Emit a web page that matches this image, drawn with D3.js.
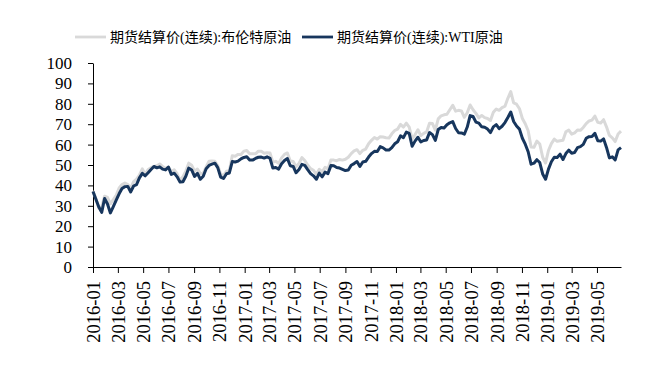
<!DOCTYPE html>
<html>
<head>
<meta charset="utf-8">
<script src="https://cdn.jsdelivr.net/npm/d3@7"></script>
<style>
  body { margin: 0; background: #fff; }
  text { font-family: "Liberation Serif", "Noto Sans CJK SC", serif; fill: #000; }
</style>
</head>
<body>
<svg id="chart"></svg>
<script>
// weekly samples (Fridays), 2016-01-01 .. 2019-06-28
const startDate = new Date(2016, 0, 1);
const endDate = new Date(2019, 5, 28);

const seriesNames = ["期货结算价(连续):布伦特原油", "期货结算价(连续):WTI原油"];
const yTicks = [0, 10, 20, 30, 40, 50, 60, 70, 80, 90, 100];

const brent = [
  // 2016
  37.3, 33.6, 28.9, 29.5, 34.7, 34.1, 31.0, 33.0, 35.1, 38.7, 40.4, 41.2, 40.4,
  38.7, 41.9, 43.1, 45.1, 48.1, 45.4, 47.8, 48.7, 49.3, 49.6, 50.5, 49.2, 48.4,
  49.0, 46.8, 47.6, 45.7, 42.5, 44.3, 47.0, 50.9, 49.9, 47.0, 48.0, 45.8, 45.9,
  49.1, 51.9, 52.0, 51.8, 49.7, 45.6, 44.8, 46.9, 47.2, 54.5, 54.3, 55.2, 55.2, 56.8,
  // 2017
  57.1, 55.5, 55.5, 55.5, 56.8, 56.7, 55.8, 56.0, 55.9, 51.4, 51.8, 50.8, 53.5,
  55.2, 55.9, 52.0, 51.7, 49.1, 50.8, 53.6, 52.2, 50.0, 48.2, 47.4, 45.5, 47.9,
  46.7, 48.9, 48.1, 52.5, 52.4, 52.1, 52.7, 52.4, 52.8, 53.8, 55.6, 56.9, 57.5,
  55.6, 57.2, 57.8, 60.4, 62.1, 63.5, 62.7, 63.9, 63.7, 63.4, 63.2, 65.3, 66.9,
  // 2018
  67.6, 69.9, 68.6, 70.5, 68.6, 62.8, 64.8, 67.3, 64.4, 65.5, 66.2, 70.5, 70.3,
  67.1, 72.6, 74.1, 74.6, 74.9, 77.1, 79.3, 76.4, 76.8, 76.5, 73.4, 75.6, 79.4,
  77.1, 75.3, 73.1, 74.3, 73.2, 72.8, 71.8, 75.8, 77.4, 76.8, 78.1, 78.8, 82.7,
  86.0, 80.4, 79.8, 77.6, 72.8, 70.2, 66.8, 58.8, 58.7, 61.7, 60.3, 53.8, 51.0,
  // 2019
  57.1, 60.5, 62.7, 61.6, 61.9, 62.1, 66.3, 67.1, 65.1, 65.7, 67.2, 67.0, 68.4,
  70.3, 71.6, 72.0, 74.0, 70.9, 70.6, 72.2, 68.7, 64.5, 63.3, 61.5, 65.2, 66.6
];

const wti = [
  // 2016
  37.0, 33.2, 29.4, 26.8, 33.6, 30.9, 26.5, 29.6, 32.8, 35.9, 38.5, 39.4, 39.5,
  36.8, 39.7, 40.4, 43.7, 45.9, 44.7, 46.2, 47.8, 49.3, 48.6, 49.1, 48.0, 47.6,
  49.0, 45.4, 46.0, 44.2, 41.6, 41.8, 44.5, 48.5, 47.6, 44.4, 45.9, 43.0, 44.5,
  48.2, 49.8, 50.4, 50.9, 48.7, 44.1, 43.4, 45.7, 46.1, 51.7, 51.5, 51.9, 53.0, 53.7,
  // 2017
  54.0, 52.4, 52.4, 53.2, 53.8, 53.9, 53.4, 54.0, 53.3, 48.5, 48.8, 48.0, 50.6,
  52.2, 53.2, 49.6, 49.3, 46.2, 47.8, 50.3, 49.8, 47.7, 45.8, 44.7, 43.0, 46.0,
  44.2, 46.5, 45.8, 49.7, 49.6, 48.8, 48.5, 47.9, 47.3, 47.5, 49.9, 50.7, 51.7,
  49.3, 51.5, 51.8, 53.9, 55.6, 56.7, 56.6, 59.0, 58.4, 57.4, 57.3, 58.5, 60.4,
  // 2018
  61.4, 64.3, 63.4, 66.1, 65.5, 59.2, 61.7, 63.6, 61.3, 62.0, 62.3, 65.9, 64.9,
  62.1, 67.4, 68.4, 68.1, 69.7, 70.7, 71.3, 67.9, 65.8, 65.7, 65.1, 68.6, 74.2,
  73.8, 71.0, 70.5, 68.7, 68.5, 67.6, 65.9, 68.7, 69.8, 67.8, 69.0, 70.8, 73.3,
  76.0, 71.3, 69.1, 67.6, 63.1, 60.2, 56.5, 50.4, 50.9, 52.6, 51.2, 45.6, 43.0,
  // 2019
  48.0, 51.6, 53.8, 53.7, 55.3, 52.7, 55.6, 57.3, 55.8, 56.1, 58.5, 59.0, 60.1,
  63.1, 63.9, 64.0, 65.5, 61.9, 61.7, 62.8, 58.6, 53.5, 54.0, 52.5, 57.4, 58.5
];

const dates = d3.timeFriday.range(startDate, d3.timeDay.offset(endDate, 1));

const width = 669;
const height = 387;
const margin = { top: 63, right: 48, bottom: 120, left: 93 };

const svg = d3.select("#chart")
    .attr("width", width)
    .attr("height", height);

const x = d3.scaleTime()
    .domain([startDate, endDate])
    .range([margin.left, width - margin.right]);

const y = d3.scaleLinear()
    .domain([0, 100])
    .range([height - margin.bottom, margin.top]);

// y axis
const yAxis = svg.append("g")
    .attr("transform", `translate(${margin.left},0)`)
    .call(d3.axisLeft(y).tickValues(yTicks).tickSize(5).tickPadding(16).tickSizeOuter(0));
yAxis.selectAll("text").style("font-size", "17px");

// x axis, ticks every two months
const xTicks = d3.timeMonth.every(2).range(startDate, endDate);
const xAxis = svg.append("g")
    .attr("transform", `translate(0,${height - margin.bottom})`)
    .call(d3.axisBottom(x).tickValues(xTicks).tickFormat(d3.timeFormat("%Y-%m")).tickSize(6).tickSizeOuter(0));
xAxis.selectAll("text")
    .style("font-size", "18.5px")
    .attr("text-anchor", "end")
    .attr("transform", "rotate(-90)")
    .attr("x", -14)
    .attr("y", 0)
    .attr("dy", "0.35em");

svg.selectAll(".domain, .tick line").attr("stroke", "#000");

// lines
const colors = ["#d9d9d9", "#17365d"];
const line = d3.line()
    .x((d, i) => x(dates[i]))
    .y(d => y(d));

[brent, wti].forEach((vals, k) => {
  svg.append("path")
      .datum(vals)
      .attr("fill", "none")
      .attr("stroke", colors[k])
      .attr("stroke-width", 3)
      .attr("stroke-linejoin", "round")
      .attr("d", line);
});

// legend
const legendX = [75, 302];
seriesNames.forEach((name, k) => {
  const g = svg.append("g").attr("transform", `translate(${legendX[k]},37)`);
  g.append("line")
      .attr("x1", 0).attr("x2", 31)
      .attr("stroke", colors[k])
      .attr("stroke-width", 2.8);
  g.append("text")
      .attr("x", 35)
      .attr("dy", "0.35em")
      .style("font-size", "14px")
      .text(name);
});
</script>
</body>
</html>
